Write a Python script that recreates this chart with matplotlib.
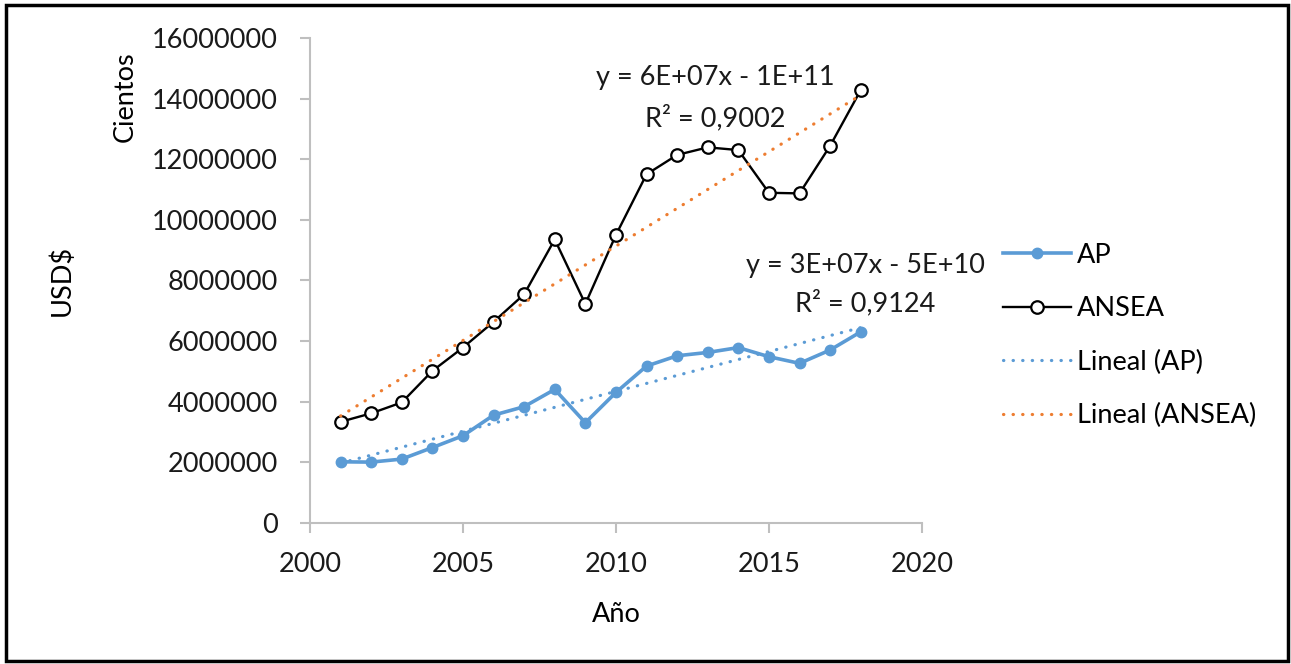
import matplotlib
matplotlib.use('Agg')
import matplotlib.pyplot as plt
import numpy as np
from matplotlib.patches import Rectangle

plt.rcParams['font.family'] = ['Lato', 'DejaVu Sans']

years = list(range(2001, 2019))
ap = [2.01, 2.0, 2.10, 2.48, 2.87, 3.55, 3.83, 4.40, 3.30, 4.30,
      5.17, 5.51, 5.62, 5.78, 5.48, 5.26, 5.70, 6.30]
ansea = [3.33, 3.61, 3.97, 5.01, 5.78, 6.63, 7.54, 9.35, 7.22, 9.50,
         11.50, 12.14, 12.39, 12.30, 10.89, 10.87, 12.44, 14.28]
ap = [v * 1e6 for v in ap]
ansea = [v * 1e6 for v in ansea]

blue = '#5B9BD5'
orange = '#ED7D31'
grey = '#BFBFBF'
fs = 19.5

fig = plt.figure(figsize=(12.91, 6.64), dpi=100)
ax = fig.add_axes([0.2401, 0.2128, 0.474, 0.73])

x = np.array(years)
# linear trends
p_ap = np.polyfit(x, ap, 1)
p_an = np.polyfit(x, ansea, 1)

ax.plot(years, ap, color=blue, lw=2.6, marker='o', ms=7.5, label='AP', zorder=3)
ax.plot(years, ansea, color='black', lw=1.7, marker='o', ms=9, mfc='white',
        mec='black', mew=1.6, label='ANSEA', zorder=3)
ax.plot(x, np.polyval(p_ap, x), color=blue, lw=2.3, ls=(0, (0.1, 2.9)),
        dash_capstyle='round', label='Lineal (AP)', zorder=4)
ax.plot(x, np.polyval(p_an, x), color=orange, lw=2.3, ls=(0, (0.1, 2.9)),
        dash_capstyle='round', label='Lineal (ANSEA)', zorder=4)

ax.set_xlim(2000, 2020)
ax.set_ylim(0, 16000000)
ax.set_xticks(range(2000, 2021, 5))
ax.set_yticks(range(0, 16000001, 2000000))
ax.set_yticklabels([str(v) for v in range(0, 16000001, 2000000)])
for s in ['top', 'right']:
    ax.spines[s].set_visible(False)
for s in ['left', 'bottom']:
    ax.spines[s].set_color(grey)
    ax.spines[s].set_linewidth(1.5)
ax.tick_params(axis='both', colors=grey, width=1.5, length=7, labelsize=fs,
               labelcolor='#1a1a1a')
ax.tick_params(axis='y', pad=16)
ax.tick_params(axis='x', pad=14)

ax.set_xlabel('Año', fontsize=fs, labelpad=18)
fig.text(62 / 1291, 1 - 280 / 664, 'USD$', rotation=90, fontsize=fs,
         ha='center', va='center')
fig.text(125 / 1291, 1 - 97 / 664, 'Cientos', rotation=90, fontsize=fs,
         ha='center', va='center')

fig.text(715 / 1291, 1 - 78 / 664, 'y = 6E+07x - 1E+11', fontsize=fs,
         ha='center', va='center', color='#1a1a1a')
fig.text(715 / 1291, 1 - 118 / 664, 'R² = 0,9002', fontsize=fs,
         ha='center', va='center', color='#1a1a1a')
fig.text(865 / 1291, 1 - 265 / 664, 'y = 3E+07x - 5E+10', fontsize=fs,
         ha='center', va='center', color='#1a1a1a')
fig.text(865 / 1291, 1 - 303 / 664, 'R² = 0,9124', fontsize=fs,
         ha='center', va='center', color='#1a1a1a')

fig.legend(loc='upper left', bbox_to_anchor=(992 / 1291, 1 - 232 / 664),
           frameon=False, fontsize=fs, handlelength=2.5, handletextpad=0.25,
           labelspacing=1.05, borderaxespad=0)

fig.patches.append(Rectangle((6 / 1291, 3 / 664), 1282 / 1291, 656 / 664,
                             transform=fig.transFigure, fill=False,
                             edgecolor='black', lw=2.5))

fig.savefig('out.png', dpi=100)
